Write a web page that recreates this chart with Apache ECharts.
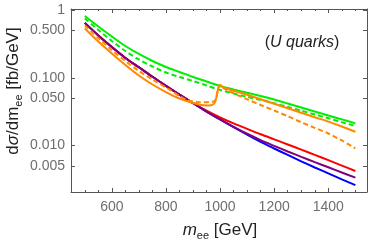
<!DOCTYPE html>
<html>
<head>
<meta charset="utf-8">
<script src="https://cdn.jsdelivr.net/npm/echarts@6/dist/echarts.min.js"></script>
<style>html,body{margin:0;padding:0;background:#fff;}#c{width:374px;height:243px;}</style>
</head>
<body>
<div id="c"></div>
<script>
// ---- data ----
const massGrid = [500, 550, 600, 650, 700, 750, 800, 850, 900, 950, 1000, 1050, 1100, 1150, 1200, 1250, 1300, 1350, 1400, 1450, 1500];
const greenSolid = [0.8155, 0.5709, 0.4065, 0.2944, 0.2244, 0.1769, 0.1443, 0.1218, 0.1027, 0.0882, 0.0757, 0.0672, 0.0601, 0.0539, 0.0478, 0.0418, 0.0365, 0.0318, 0.0278, 0.0244, 0.0213];
const greenDashed = [0.7493, 0.5070, 0.3489, 0.2485, 0.1862, 0.1468, 0.1197, 0.1027, 0.0897, 0.0770, 0.0661, 0.0587, 0.0525, 0.0471, 0.0421, 0.0371, 0.0327, 0.0288, 0.0253, 0.0221, 0.0195];
const blueSolid = [0.6457, 0.4217, 0.2838, 0.1963, 0.1429, 0.1035, 0.0762, 0.0565, 0.0422, 0.0318, 0.0243, 0.0187, 0.01452, 0.01135, 0.00906, 0.00728, 0.00587, 0.00476, 0.00389, 0.00318, 0.00262];
const purpleSolid = [0.6457, 0.4217, 0.2838, 0.1963, 0.1429, 0.1035, 0.0762, 0.0565, 0.0422, 0.0318, 0.0243, 0.01892, 0.01496, 0.01205, 0.00991, 0.0082, 0.00682, 0.0057, 0.0048, 0.00401, 0.00337];
const redSolid = [0.6457, 0.4217, 0.2838, 0.1963, 0.1429, 0.1035, 0.0762, 0.0565, 0.0425, 0.0327, 0.0260, 0.02123, 0.01766, 0.01469, 0.01236, 0.0104, 0.00873, 0.0073, 0.00611, 0.00508, 0.00422];
const orangeMass = [500, 550, 600, 650, 700, 750, 800, 850, 900, 925, 950, 965, 975, 982, 987, 991, 995, 1000, 1010, 1025, 1050, 1100, 1150, 1200, 1250, 1300, 1350, 1400, 1450, 1500];
const orangeSolid = [0.5335, 0.3430, 0.2283, 0.1545, 0.1081, 0.0796, 0.0617, 0.0495, 0.0425, 0.0400, 0.0390, 0.0393, 0.0407, 0.0447, 0.0530, 0.0639, 0.0731, 0.0783, 0.0727, 0.0688, 0.0643, 0.0562, 0.0482, 0.0414, 0.0355, 0.0305, 0.0262, 0.0226, 0.0191, 0.0160];
const orangeDashMass = [500, 550, 600, 650, 700, 750, 800, 850, 875, 900, 925, 950, 965, 975, 982, 987, 991, 995, 1000, 1010, 1025, 1050, 1100, 1150, 1200, 1250, 1300, 1350, 1400, 1450, 1500];
const orangeDashed = [0.5906, 0.3864, 0.2570, 0.1769, 0.1260, 0.0944, 0.0719, 0.0539, 0.0474, 0.0446, 0.0437, 0.0437, 0.0440, 0.0446, 0.0463, 0.0530, 0.0639, 0.0731, 0.0783, 0.0712, 0.0661, 0.0591, 0.0482, 0.0397, 0.0329, 0.0271, 0.0221, 0.0183, 0.0151, 0.0119, 0.00912];
const xMajorTicks = [600, 800, 1000, 1200, 1400];
const xMinorTicks = [450, 500, 550, 650, 700, 750, 850, 900, 950, 1050, 1100, 1150, 1250, 1300, 1350, 1450, 1500];
const yTickValues = [0.005, 0.01, 0.05, 0.1, 0.5, 1];
const yTickLabels = ['0.005', '0.010', '0.050', '0.100', '0.500', '1'];

const pairs = (xs, ys) => xs.map((x, i) => [x, ys[i]]);
const FONT = 'Liberation Sans, Arial, sans-serif';
const FRAME = '#555555';
const LABEL = '#6e6e6e';

const xBase = {type: 'value', min: 449, max: 1543, splitLine: {show: false}};
const yBase = {type: 'log', min: 0.00207, max: 1.034, splitLine: {show: false}};

function line(name, data, color, dashed) {
  return {
    name, type: 'line', data, showSymbol: false, symbol: 'none', smooth: 0.3,
    lineStyle: {color, width: 2, type: dashed ? [5, 3] : 'solid'},
    emphasis: {disabled: true}, silent: true
  };
}

const chart = echarts.init(document.getElementById('c'), null, {renderer: 'canvas'});
chart.setOption({
  animation: false,
  backgroundColor: '#fff',
  grid: {left: 71, top: 9, right: 7, bottom: 51, containLabel: false},
  xAxis: [
    Object.assign({}, xBase, {position: 'bottom',
      axisLine: {show: true, lineStyle: {color: FRAME, width: 1}},
      axisTick: {show: true, inside: true, length: 4, customValues: xMajorTicks, lineStyle: {color: FRAME}},
      axisLabel: {show: true, customValues: xMajorTicks, margin: 8, color: LABEL, fontSize: 14, fontFamily: FONT,
        formatter: v => String(v)}}),
    Object.assign({}, xBase, {position: 'bottom',
      axisLine: {show: false},
      axisTick: {show: true, inside: true, length: 2, customValues: xMinorTicks, lineStyle: {color: FRAME}},
      axisLabel: {show: false}}),
    Object.assign({}, xBase, {position: 'top',
      axisLine: {show: true, lineStyle: {color: FRAME, width: 1}},
      axisTick: {show: true, inside: true, length: 4, customValues: xMajorTicks, lineStyle: {color: FRAME}},
      axisLabel: {show: false}}),
    Object.assign({}, xBase, {position: 'top',
      axisLine: {show: false},
      axisTick: {show: true, inside: true, length: 2, customValues: xMinorTicks, lineStyle: {color: FRAME}},
      axisLabel: {show: false}})
  ],
  yAxis: [
    Object.assign({}, yBase, {position: 'left',
      axisLine: {show: true, lineStyle: {color: FRAME, width: 1}},
      axisTick: {show: true, inside: true, length: 4, customValues: yTickValues, lineStyle: {color: FRAME}},
      axisLabel: {show: true, customValues: yTickValues, margin: 6, color: LABEL, fontSize: 14, fontFamily: FONT,
        formatter: v => { const i = yTickValues.findIndex(t => Math.abs(t - v) / t < 1e-6); return i >= 0 ? yTickLabels[i] : ''; }}}),
    Object.assign({}, yBase, {position: 'right',
      axisLine: {show: true, lineStyle: {color: FRAME, width: 1}},
      axisTick: {show: true, inside: true, length: 4, customValues: yTickValues, lineStyle: {color: FRAME}},
      axisLabel: {show: false}})
  ],
  series: [
    line('green', pairs(massGrid, greenSolid), '#00ee00', false),
    line('green dashed', pairs(massGrid, greenDashed), '#00ee00', true),
    line('blue', pairs(massGrid, blueSolid), '#0000ff', false),
    line('red', pairs(massGrid, redSolid), '#ff0000', false),
    line('purple', pairs(massGrid, purpleSolid), '#800080', false),
    line('orange dashed', pairs(orangeDashMass, orangeDashed), '#ff8800', true),
    line('orange', pairs(orangeMass, orangeSolid), '#ff8800', false)
  ],
  graphic: [
    {type: 'text', x: 13, y: 91, rotation: Math.PI / 2, silent: true,
      style: {text: '{n|d}{g|σ}{n|/dm}{s|ee}{n| [fb/GeV]}', align: 'center', verticalAlign: 'middle',
        rich: {
          n: {fontSize: 17, fontFamily: FONT, fill: '#222', lineHeight: 22},
          g: {fontSize: 17, fontFamily: FONT, fontStyle: 'italic', fill: '#222', lineHeight: 22},
          s: {fontSize: 11, fontFamily: FONT, fill: '#222', lineHeight: 11, verticalAlign: 'bottom'}
        }}},
    {type: 'text', x: 220, y: 230, silent: true,
      style: {text: '{m|m}{s|ee}{n| [GeV]}', align: 'center', verticalAlign: 'middle',
        rich: {
          m: {fontSize: 17, fontFamily: FONT, fontStyle: 'italic', fill: '#222', lineHeight: 22},
          n: {fontSize: 17, fontFamily: FONT, fill: '#222', lineHeight: 22},
          s: {fontSize: 11, fontFamily: FONT, fill: '#222', lineHeight: 11, verticalAlign: 'bottom'}
        }}},
    {type: 'text', x: 302, y: 43, silent: true,
      style: {text: '{p|(}{i|U quarks}{p|)}', align: 'center', verticalAlign: 'middle',
        rich: {
          p: {fontSize: 16, fontFamily: FONT, fill: '#222'},
          i: {fontSize: 16, fontFamily: FONT, fontStyle: 'italic', fill: '#222'}
        }}}
  ]
});
</script>
</body>
</html>
